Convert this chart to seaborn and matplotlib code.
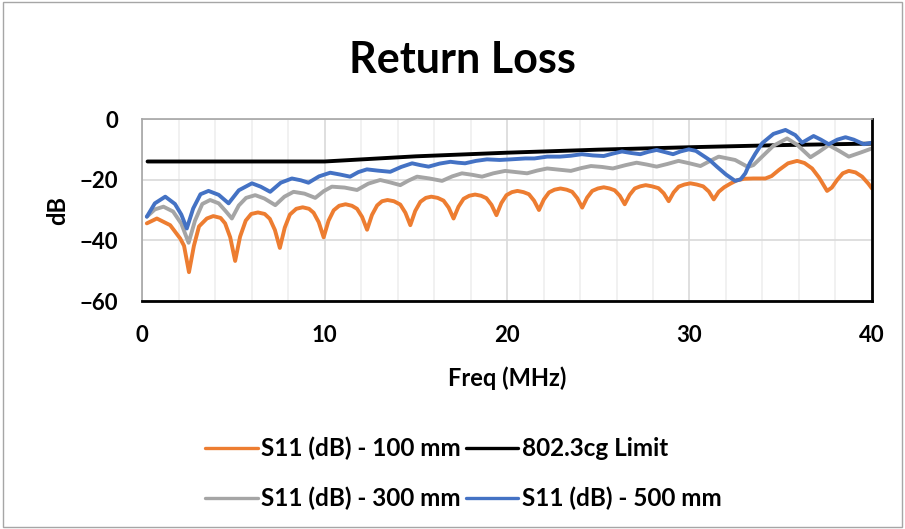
import matplotlib.pyplot as plt
import matplotlib.patches as mpatches
import numpy as np
import pandas as pd
import seaborn as sns

# S11, 100 mm cable (orange)
freq_100 = [0.26, 0.81, 1.54, 2.09, 2.3, 2.57, 2.84, 3.12, 3.55, 3.9, 4.3, 4.55, 4.83, 5.10,
            5.37, 5.68, 5.98, 6.35, 6.72, 7.0, 7.28, 7.55, 7.82, 8.1, 8.45, 8.8, 9.15, 9.4,
            9.68, 9.95, 10.22, 10.5, 10.8, 11.15, 11.5, 11.78, 12.06, 12.33, 12.6, 12.88,
            13.15, 13.45, 13.8, 14.15, 14.43, 14.70, 14.97, 15.25, 15.55, 15.85, 16.2, 16.52,
            16.8, 17.07, 17.34, 17.62, 17.93, 18.25, 18.58, 18.87, 19.15, 19.42, 19.69, 19.97,
            20.27, 20.57, 20.9, 21.2, 21.48, 21.75, 22.02, 22.3, 22.6, 22.93, 23.27, 23.57,
            23.85, 24.12, 24.39, 24.67, 24.98, 25.3, 25.62, 25.9, 26.18, 26.45, 26.72, 27.0,
            27.3, 27.6, 27.95, 28.3, 28.59, 28.86, 29.13, 29.41, 29.72, 30.05, 30.4, 30.75,
            31.06, 31.33, 31.6, 31.9, 32.24, 32.6, 33.0, 33.5, 34.16, 34.5, 34.9, 35.4, 35.9,
            36.3, 36.72, 37.1, 37.54, 37.8, 38.09, 38.4, 38.73, 39.1, 39.46, 39.8, 40.0]
s11_100 = [-34.4, -32.8, -35.0, -39.4, -41.8, -50.5, -41.8, -35.4, -32.8, -32.0, -32.6, -34.4,
           -39.0, -46.8, -38.8, -33.5, -31.3, -30.8, -31.3, -32.9, -36.6, -42.5, -35.8, -31.5,
           -29.6, -29.1, -29.6, -30.9, -34.0, -39.0, -33.5, -30.1, -28.6, -28.1, -28.6, -29.6,
           -32.3, -36.5, -31.6, -28.5, -27.1, -26.7, -27.1, -28.2, -30.9, -35.0, -30.3, -27.3,
           -26.0, -25.6, -26.0, -26.9, -29.2, -32.8, -28.9, -26.3, -25.3, -24.9, -25.3, -26.1,
           -28.3, -31.7, -27.7, -25.1, -24.1, -23.7, -24.1, -24.8, -26.9, -30.0, -26.5, -24.2,
           -23.3, -22.9, -23.3, -24.0, -26.1, -29.2, -25.9, -23.7, -22.9, -22.5, -22.9, -23.5,
           -25.3, -28.1, -25.0, -22.9, -22.2, -21.8, -22.2, -22.8, -24.5, -27.1, -24.2, -22.3,
           -21.6, -21.2, -21.6, -22.2, -23.9, -26.5, -24.0, -22.5, -21.3, -20.2, -19.7, -19.6,
           -19.6, -18.8, -16.8, -14.6, -13.8, -14.5, -16.3, -19.3, -23.7, -22.6, -20.1, -17.9,
           -17.1, -17.6, -19.0, -21.3, -22.9]

# 802.3cg limit (black)
freq_limit = [0.3, 10, 15, 20, 25, 30, 35, 40]
limit_db = [-14.0, -14.0, -12.3, -11.1, -10.1, -9.3, -8.6, -8.1]

# S11, 300 mm cable (gray)
freq_300 = [0.26, 0.7, 1.17, 1.7, 2.15, 2.55, 2.9, 3.3, 3.73, 4.2, 4.6, 4.92, 5.3, 5.7, 6.2,
            6.7, 7.3, 7.8, 8.3, 8.9, 9.49, 9.95, 10.4, 11.1, 11.78, 12.4, 13.05, 13.6, 14.15,
            14.6, 15.07, 15.75, 16.44, 17.0, 17.53, 18.1, 18.63, 19.25, 19.9, 20.5, 21.1,
            21.65, 22.2, 22.85, 23.5, 24.05, 24.6, 25.2, 25.8, 26.5, 27.1, 27.65, 28.2, 28.8,
            29.4, 30.0, 30.6, 31.1, 31.6, 32.5, 33.2, 33.5, 33.98, 34.6, 35.35, 35.9, 36.63,
            37.1, 37.63, 38.2, 38.73, 39.4, 40.0]
s11_300 = [-32.2, -29.8, -28.9, -30.5, -34.5, -40.8, -33.5, -28.0, -26.7, -27.8, -30.5, -32.8,
           -28.5, -26.0, -25.1, -26.2, -28.4, -25.6, -24.0, -24.6, -26.0, -23.8, -22.3, -22.6,
           -23.4, -21.3, -20.1, -20.9, -21.8, -20.3, -19.0, -19.6, -20.4, -18.9, -17.9, -18.4,
           -19.0, -17.9, -17.1, -17.5, -17.9, -17.0, -16.3, -16.7, -17.1, -16.2, -15.5, -15.8,
           -16.3, -15.2, -14.4, -15.0, -15.7, -14.8, -13.8, -14.6, -15.5, -13.9, -12.4, -13.5,
           -15.8, -15.2, -12.4, -8.8, -6.4, -8.5, -12.6, -10.8, -8.6, -10.5, -12.4, -11.0, -9.7]

# S11, 500 mm cable (blue)
freq_500 = [0.26, 0.7, 1.27, 1.8, 2.15, 2.45, 2.8, 3.2, 3.64, 4.2, 4.74, 5.3, 6.02, 6.5, 7.02,
            7.6, 8.21, 8.7, 9.12, 9.7, 10.31, 10.85, 11.4, 11.85, 12.32, 12.9, 13.6, 14.2,
            14.8, 15.25, 15.7, 16.3, 16.9, 17.3, 17.7, 18.3, 18.9, 19.6, 20.2, 21.0, 21.5,
            22.2, 22.9, 23.5, 24.1, 24.7, 25.3, 25.8, 26.3, 26.8, 27.3, 27.75, 28.2, 28.65,
            29.1, 29.5, 29.96, 30.35, 30.7, 31.1, 31.5, 32.0, 32.5, 32.8, 33.06, 33.3, 33.6,
            33.98, 34.6, 35.26, 35.8, 36.17, 36.8, 37.2, 37.63, 38.1, 38.55, 39.0, 39.55, 40.0]
s11_500 = [-32.2, -27.8, -25.6, -28.0, -31.5, -36.1, -29.5, -24.8, -23.7, -25.0, -27.8, -23.5,
           -21.2, -22.3, -24.0, -21.0, -19.6, -20.2, -21.0, -18.9, -17.7, -18.3, -19.0, -17.5,
           -16.6, -17.0, -17.4, -15.8, -14.6, -15.2, -15.7, -14.7, -14.1, -14.4, -14.6, -13.8,
           -13.3, -13.5, -13.3, -13.0, -13.0, -12.4, -12.4, -12.1, -11.6, -12.0, -12.2, -11.4,
           -10.7, -11.2, -11.6, -10.8, -10.2, -10.9, -11.6, -10.7, -10.0, -10.5, -11.9, -13.5,
           -15.7, -18.3, -20.4, -19.9, -17.9, -14.6, -11.5, -8.0, -4.9, -3.6, -5.3, -7.8, -5.6,
           -6.8, -8.3, -6.8, -6.0, -6.8, -8.3, -7.8]

series = [
    ('S11 (dB) - 100 mm', freq_100, s11_100, '#ED7D31'),
    ('802.3cg Limit', freq_limit, limit_db, '#000000'),
    ('S11 (dB) - 300 mm', freq_300, s11_300, '#A5A5A5'),
    ('S11 (dB) - 500 mm', freq_500, s11_500, '#4472C4'),
]

sns.set_theme(style='white')
plt.rcParams['font.family'] = ['Lato', 'DejaVu Sans']
plt.rcParams['font.weight'] = 'bold'
for key in ['text.color', 'axes.labelcolor', 'xtick.color', 'ytick.color']:
    plt.rcParams[key] = 'black'

fig = plt.figure(figsize=(9.05, 5.29), dpi=100)
ax = fig.add_axes([0.157, 0.431, 0.8065, 0.344])

handles = {}
for name, x, y, color in series:
    df = pd.DataFrame({'freq': x, 'db': y})
    sns.lineplot(data=df, x='freq', y='db', ax=ax, color=color, linewidth=2.8,
                 estimator=None, sort=False, legend=False,
                 solid_joinstyle='round', solid_capstyle='round')
    handles[name] = plt.Line2D([], [], color=color, linewidth=2.4)

ax.set_xlim(0, 40)
ax.set_ylim(-60, 0)
ax.set_xticks([0, 10, 20, 30, 40])
ax.set_xticks(np.arange(0, 41, 2), minor=True)
ax.set_yticks([-60, -40, -20, 0])
ax.grid(True, which='major', color='#d9d9d9', linewidth=1.2)
ax.grid(True, which='minor', axis='x', color='#efefef', linewidth=1.2)
ax.set_axisbelow(True)
ax.tick_params(axis='both', which='both', length=0, labelsize=16)
ax.tick_params(axis='x', pad=17)
ax.tick_params(axis='y', pad=17)
for lab in ax.get_xticklabels() + ax.get_yticklabels():
    lab.set_fontweight('bold')

for side in ['left', 'top']:
    ax.spines[side].set_color('#a6a6a6')
    ax.spines[side].set_linewidth(1.2)
for side in ['bottom', 'right']:
    ax.spines[side].set_color('#000000')
    ax.spines[side].set_linewidth(2)

ax.set_xlabel('Freq (MHz)', fontsize=17, fontweight='bold', labelpad=15)
ax.set_ylabel('dB', fontsize=17, fontweight='bold', labelpad=8)
fig.text(0.511, 1 - 60 / 529, 'Return Loss', ha='center', va='center', fontsize=31,
         fontweight='bold')

order = ['S11 (dB) - 100 mm', 'S11 (dB) - 300 mm', '802.3cg Limit', 'S11 (dB) - 500 mm']
fig.legend([handles[k] for k in order], order, loc='center', bbox_to_anchor=(0.512, 0.105),
           ncol=2, frameon=False, handlelength=2.15, handletextpad=0.15,
           columnspacing=0.2, labelspacing=1.1, prop={'weight': 'bold', 'size': 17.5})

fig.patches.append(mpatches.Rectangle((0.003, 0.004), 0.994, 0.992, transform=fig.transFigure,
                                      fill=False, edgecolor='#a6a6a6', linewidth=1))

fig.savefig('out.png', dpi=100)
